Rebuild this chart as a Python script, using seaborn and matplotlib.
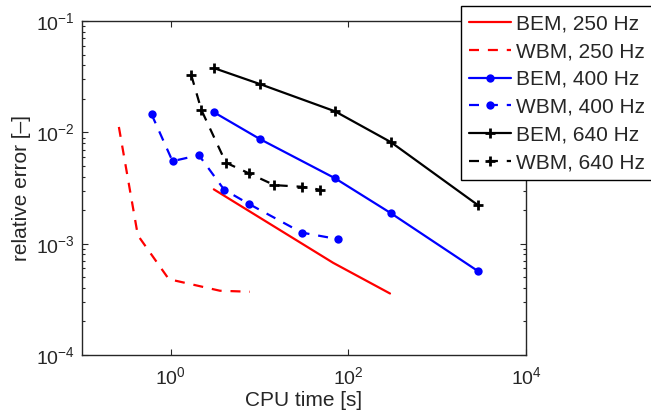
import matplotlib
matplotlib.use('Agg')
import matplotlib.pyplot as plt
import matplotlib.ticker as mticker
import pandas as pd
import seaborn as sns

sns.set_style('ticks')
plt.rcParams['font.family'] = ['Liberation Sans', 'DejaVu Sans']
plt.rcParams['mathtext.fontset'] = 'custom'
plt.rcParams['mathtext.rm'] = 'Liberation Sans'

# CPU time [s] and relative error
bem250_t = [3.05, 10.1, 67.4, 294]
bem250_e = [0.00308, 0.00171, 0.000673, 0.000357]
wbm250_t = [0.26, 0.425, 0.95, 3.57, 7.77]
wbm250_e = [0.0112, 0.00119, 0.00048, 0.000378, 0.00037]
bem400_t = [3.05, 10.1, 70.4, 301, 2880]
bem400_e = [0.0152, 0.00871, 0.00388, 0.00188, 0.000567]
wbm400_t = [0.606, 1.045, 2.07, 3.98, 7.63, 29.7, 75.6]
wbm400_e = [0.0146, 0.00552, 0.00625, 0.00306, 0.00227, 0.00126, 0.0011]
bem640_t = [3.05, 10.1, 70.4, 301, 2880]
bem640_e = [0.0379, 0.0272, 0.0155, 0.00818, 0.00222]
wbm640_t = [1.70, 2.21, 4.17, 7.63, 14.7, 29.7, 47.7]
wbm640_e = [0.0327, 0.0159, 0.00535, 0.00428, 0.00336, 0.00325, 0.00306]

series = [
    ('BEM, 250 Hz', bem250_t, bem250_e, 'red', None, ''),
    ('WBM, 250 Hz', wbm250_t, wbm250_e, 'red', (4.5, 4), ''),
    ('BEM, 400 Hz', bem400_t, bem400_e, 'blue', None, 'o'),
    ('WBM, 400 Hz', wbm400_t, wbm400_e, 'blue', (4.5, 4), 'o'),
    ('BEM, 640 Hz', bem640_t, bem640_e, 'black', None, '+'),
    ('WBM, 640 Hz', wbm640_t, wbm640_e, 'black', (4.5, 4), '+'),
]

fig = plt.figure(figsize=(6.51, 4.15), dpi=100)
ax = fig.add_axes([0.126, 0.1446, 0.682, 0.8044])

for label, t, e, col, dash, mk in series:
    df = pd.DataFrame({'t': t, 'e': e})
    kw = dict(color=col, lw=1.6, label=label, marker=mk if mk else None)
    if dash is not None:
        kw['dashes'] = dash
    if mk == 'o':
        kw.update(markersize=6, markeredgewidth=0, markeredgecolor=col)
    elif mk == '+':
        kw.update(markersize=7, markeredgewidth=2, markeredgecolor=col)
    sns.lineplot(data=df, x='t', y='e', ax=ax, sort=False, estimator=None, **kw)

ax.set_xscale('log')
ax.set_yscale('log')
ax.set_xlim(0.1, 1e4)
ax.set_ylim(1e-4, 1e-1)
ax.set_xticks([1, 1e2, 1e4])
ax.xaxis.set_minor_locator(mticker.NullLocator())
ax.xaxis.set_major_formatter(mticker.LogFormatterMathtext())
ax.yaxis.set_major_locator(mticker.LogLocator(base=10, numticks=10))
ax.yaxis.set_minor_locator(mticker.LogLocator(base=10, subs=range(2, 10), numticks=10))
ax.yaxis.set_minor_formatter(mticker.NullFormatter())
ax.tick_params(which='both', direction='in', top=True, right=True, width=0.8)
ax.tick_params(which='major', length=4, labelsize=14)
ax.tick_params(axis='x', which='major', pad=8)
ax.tick_params(axis='y', which='major', pad=5)
ax.tick_params(which='minor', length=2.5)
for s in ax.spines.values():
    s.set_linewidth(1.0)

ax.set_xlabel('CPU time [s]', fontsize=15, labelpad=2)
ax.set_ylabel('relative error [\u2013]', fontsize=15, labelpad=4)

ax.legend(loc='upper left', bbox_to_anchor=(0.7077, 0.9855), bbox_transform=fig.transFigure,
          fontsize=15, frameon=True, fancybox=False, edgecolor='black', framealpha=1,
          borderpad=0.4, labelspacing=0.42, handlelength=2.0, handletextpad=0.25,
          borderaxespad=0)
ax.get_legend().get_frame().set_linewidth(1.0)

fig.savefig('out.png', dpi=100)
